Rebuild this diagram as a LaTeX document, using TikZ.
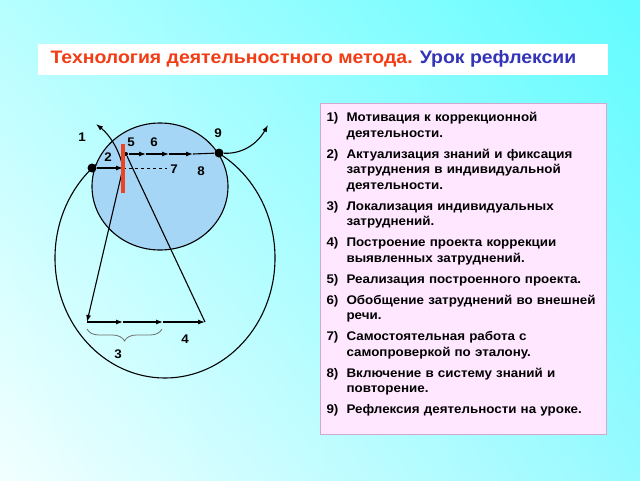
\documentclass[tikz,border=0pt]{standalone}
\usepackage{fontspec}
\setmainfont{Liberation Sans}
\newfontfamily\titlefont[FakeStretch=1.08]{Liberation Sans}
\newfontfamily\listfont[FakeStretch=1.07]{Liberation Sans}
\usetikzlibrary{arrows.meta, positioning, calc, shadings, decorations.pathreplacing}

\definecolor{bgtl}{HTML}{B6FEFF}
\definecolor{bgtr}{HTML}{62FCFF}
\definecolor{bgbl}{HTML}{F2FFFF}
\definecolor{bgbr}{HTML}{96FAFF}
\definecolor{sphere}{HTML}{A6D6F6}
\definecolor{redbar}{HTML}{EE4422}
\definecolor{titlered}{HTML}{F23C14}
\definecolor{titleblue}{HTML}{3434B8}
\definecolor{panelfill}{HTML}{FFE8FF}
\definecolor{panelline}{HTML}{D0A8D0}
\definecolor{bracegray}{HTML}{707070}

\newcommand\lessonstep[2]{\par\hangindent=20pt\hangafter=1\noindent\makebox[20pt][l]{#1)}#2\par}

\tikzset{
  lbl/.style={font=\listfont\bfseries\fontsize{12.5}{14}\selectfont, inner sep=0pt},
  arr/.style={-{Latex[length=7pt,width=5pt]}},
  dot/.style={circle, fill=black, inner sep=0pt, minimum size=9pt},
  smalldot/.style={circle, fill=black, inner sep=0pt, minimum size=4pt},
}

\begin{document}
\begin{tikzpicture}[x=1pt, y=-1pt, line width=1.1pt]
% background
\shade[upper left=bgtl, upper right=bgtr, lower left=bgbl, lower right=bgbr] (0,0) rectangle (640,480);
\useasboundingbox (0,0) rectangle (640,480);

% title
\node[fill=white, anchor=north west, minimum width=570pt, minimum height=31pt, inner sep=0pt] (titlebox) at (37,43) {};
\node[anchor=west, inner sep=0pt, font=\titlefont\bfseries\fontsize{18}{20}\selectfont] (title) at (50,58.5)
  {\color{titlered}Технология деятельностного метода. \color{titleblue}Урок рефлексии};

% circles
\draw (165,258) ellipse [x radius=110, y radius=120];
\draw[fill=sphere] (160,186.5) ellipse [x radius=68, y radius=63.5];

% points
\node[dot] (left) at (92,168) {};
\node[dot] (right) at (219,153) {};
\node[smalldot] (start) at (126,154) {};
\coordinate (bar) at (123,168);
\coordinate (dashend) at (167,168);
\coordinate (t1) at (146,154);
\coordinate (t2) at (169,154);
\coordinate (t3) at (193,154);
\coordinate (lowleft) at (87,322);
\coordinate (b1) at (123,322);
\coordinate (b2) at (163,322);
\coordinate (lowright) at (205,322);
\coordinate (out1) at (96,124);
\coordinate (out9) at (268,125);

% connectors
\draw[arr] (left) -- (bar);
\draw[dashed, line width=0.9pt] (bar) -- (dashend);
\draw[arr] (start) -- (t1);
\draw[arr] (t1) -- (t2);
\draw[arr] (t2) -- (t3);
\draw (t3) -- (right);
\draw[arr] (bar) -- (lowleft);
\draw (start) -- (lowright);
\draw[arr] (lowleft) -- (b1);
\draw[arr] (b1) -- (b2);
\draw[arr] (b2) -- (lowright);
\draw[arr] (bar) .. controls (120,152) and (111,136) .. (out1);
\draw[arr] (right) .. controls (240,154) and (256,146) .. (out9);
\draw[redbar, line width=4pt] (123,144) -- (123,193);
\draw[decorate, decoration={brace, mirror, amplitude=12pt}, bracegray, line width=0.8pt] (87,329) -- (162,329);

% numbers
\node[lbl] (n1) at (82,137) {1};
\node[lbl] (n2) at (108,157) {2};
\node[lbl] (n3) at (118,354) {3};
\node[lbl] (n4) at (185,339) {4};
\node[lbl] (n5) at (131,142) {5};
\node[lbl] (n6) at (154,142) {6};
\node[lbl] (n7) at (174,169) {7};
\node[lbl] (n8) at (201,171) {8};
\node[lbl] (n9) at (218,133) {9};

% list of steps
\node[draw=panelline, fill=panelfill, line width=0.8pt, anchor=north west, minimum width=286pt, minimum height=331pt] (panel) at (320,103) {};
\node[anchor=north west, inner sep=0pt, text width=282pt, align=left,
      font=\listfont\bfseries\fontsize{12.5}{15.5}\selectfont] (steps) at (326,100) {%
  \setlength{\parskip}{5.5pt}%
  \lessonstep{1}{Мотивация к коррекционной\newline деятельности.}
  \lessonstep{2}{Актуализация знаний и фиксация\newline затруднения в индивидуальной\newline деятельности.}
  \lessonstep{3}{Локализация индивидуальных\newline затруднений.}
  \lessonstep{4}{Построение проекта коррекции\newline выявленных затруднений.}
  \lessonstep{5}{Реализация построенного проекта.}
  \lessonstep{6}{Обобщение затруднений во внешней\newline речи.}
  \lessonstep{7}{Самостоятельная работа с\newline самопроверкой по эталону.}
  \lessonstep{8}{Включение в систему знаний и\newline повторение.}
  \lessonstep{9}{Рефлексия деятельности на уроке.}};
\end{tikzpicture}
\end{document}
